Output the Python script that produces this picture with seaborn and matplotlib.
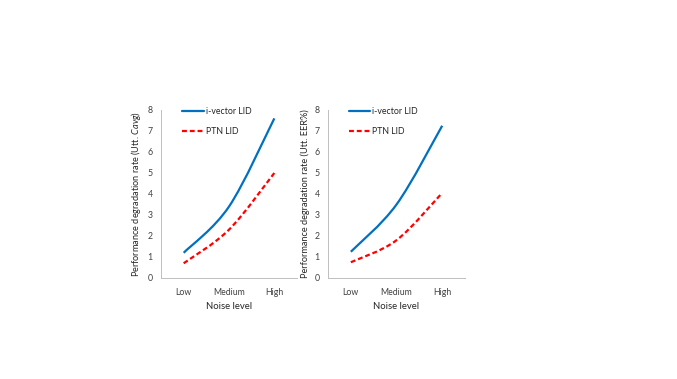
import numpy as np
import seaborn as sns
import matplotlib.pyplot as plt
from matplotlib.path import Path
from matplotlib.patches import PathPatch
from matplotlib.lines import Line2D

# Data
levels = ["Low", "Medium", "High"]
cavg_ivector = [1.2, 3.4, 7.6]
cavg_ptn = [0.7, 2.3, 5.0]
eer_ivector = [1.25, 3.5, 7.25]
eer_ptn = [0.75, 1.8, 4.05]

sns.set_theme(style="white")
plt.rcParams['font.family'] = ['Lato', 'DejaVu Sans']
plt.rcParams['mathtext.fontset'] = 'custom'
plt.rcParams['mathtext.it'] = 'Lato:italic'
plt.rcParams['mathtext.rm'] = 'Lato'

BLUE = "#0070C0"
RED = "#FF0000"


def smooth_path(xs, ys):
    # Excel-style smoothed line: cubic Bezier through the points (Catmull-Rom)
    pts = np.column_stack([xs, ys]).astype(float)
    n = len(pts)
    verts = [pts[0]]
    codes = [Path.MOVETO]
    for i in range(n - 1):
        p0 = pts[max(i - 1, 0)]
        p1 = pts[i]
        p2 = pts[i + 1]
        p3 = pts[min(i + 2, n - 1)]
        c1 = p1 + (p2 - p0) / 6
        c2 = p2 - (p3 - p1) / 6
        verts += [c1, c2, p2]
        codes += [Path.CURVE4] * 3
    return Path(verts, codes)


def draw_panel(ax, ivec, ptn, ylabel, leg_x):
    x = np.arange(len(levels))
    ax.add_patch(PathPatch(smooth_path(x, ivec), fill=False, edgecolor=BLUE,
                           lw=1.6, capstyle='butt'))
    ax.add_patch(PathPatch(smooth_path(x, ptn), fill=False, edgecolor=RED,
                           lw=1.6, linestyle=(0, (2.2, 1.3))))
    ax.set_xlim(-0.5, 2.5)
    ax.set_ylim(0, 8)
    ax.set_xticks(x)
    ax.set_xticklabels(levels)
    ax.set_yticks(range(0, 9))
    ax.set_xlabel("Noise level", fontsize=6.8, labelpad=3)
    ax.set_ylabel(ylabel, fontsize=6.6, labelpad=3)
    ax.tick_params(axis='both', labelsize=6.3, colors="#404040", length=2.5,
                   width=0.6, pad=3.5, color="#BFBFBF")
    ax.tick_params(axis='x', pad=5)
    sns.despine(ax=ax)
    for s in ["left", "bottom"]:
        ax.spines[s].set_color("#BFBFBF")
        ax.spines[s].set_linewidth(0.7)
    handles = [Line2D([], [], color=BLUE, lw=1.6),
               Line2D([], [], color=RED, lw=1.6, linestyle=(0, (2.2, 1.3)))]
    ax.legend(handles, ["i-vector LID", "PTN LID"], loc='upper left',
              bbox_to_anchor=(leg_x, 1.015), frameon=False, fontsize=6.3,
              handlelength=2.5, handletextpad=0.2, labelspacing=1.2,
              borderaxespad=0, borderpad=0)


fig = plt.figure(figsize=(6.77, 3.79), dpi=100)
ax1 = fig.add_axes([0.2378, 0.2665, 0.2009, 0.4433])
ax2 = fig.add_axes([0.4845, 0.2665, 0.2024, 0.4433])

draw_panel(ax1, cavg_ivector, cavg_ptn,
           r"Performance degradation rate (Utt. $\mathit{Cavg}$)", 0.155)
draw_panel(ax2, eer_ivector, eer_ptn,
           "Performance degradation rate (Utt. EER%)", 0.15)

fig.savefig("out.png", dpi=100)
